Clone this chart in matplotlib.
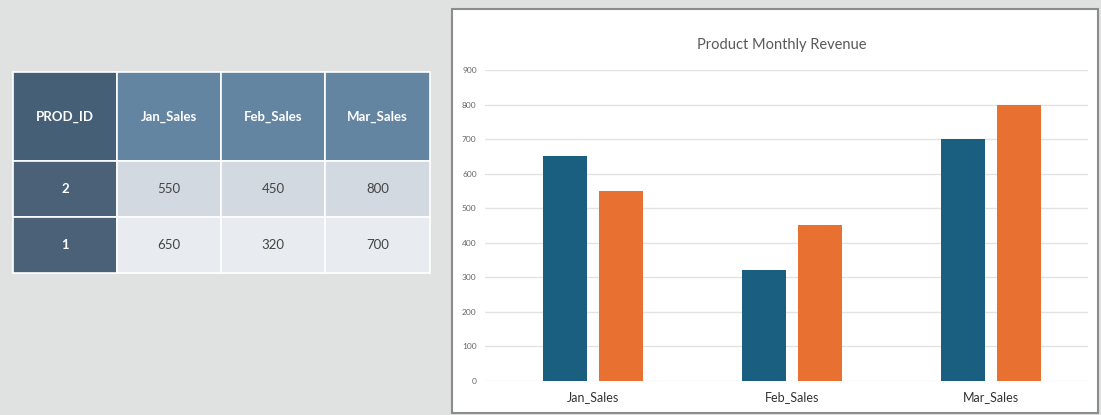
import numpy as np
import matplotlib.pyplot as plt
from matplotlib.patches import Rectangle

# data from the table / chart
months = ["Jan_Sales", "Feb_Sales", "Mar_Sales"]
prod_ids = ["2", "1"]
sales_prod2 = [550, 450, 800]
sales_prod1 = [650, 320, 700]
yticks = [0, 100, 200, 300, 400, 500, 600, 700, 800, 900]

plt.rcParams['font.family'] = ['Lato', 'DejaVu Sans']

fig = plt.figure(figsize=(11.01, 4.15), dpi=100)
fig.patch.set_facecolor("#e0e2e1")

W, H = 1101, 415

def fx(px):
    return px / W

def fy(py):
    return 1 - py / H

# full-figure axes in pixel coords for the table and the white panel
tab = fig.add_axes([0, 0, 1, 1], facecolor="none", zorder=0)
tab.set_xlim(0, W)
tab.set_ylim(H, 0)
tab.axis("off")

# white panel behind the chart
tab.add_patch(Rectangle((452, 9), 1098 - 452, 413 - 9, facecolor="white",
                        edgecolor="#8c8c8c", linewidth=1.5))

col_x = [13, 117, 221, 325, 430]
row_y = [72, 161, 217, 273]
header = ["PROD_ID"] + months
rows = [[prod_ids[0]] + sales_prod2, [prod_ids[1]] + sales_prod1]
row_colors = ["#d3d9e0", "#e8ebef"]

for j, h in enumerate(header):
    x0, x1 = col_x[j], col_x[j + 1]
    c = "#455f77" if j == 0 else "#6385a2"
    tab.add_patch(Rectangle((x0, row_y[0]), x1 - x0, row_y[1] - row_y[0],
                            facecolor=c, edgecolor="white", linewidth=1.2))
    tab.text((x0 + x1) / 2, (row_y[0] + row_y[1]) / 2, h, color="white",
             fontsize=9.5, fontweight="bold", ha="center", va="center")

for i, r in enumerate(rows):
    y0, y1 = row_y[i + 1], row_y[i + 2]
    for j, v in enumerate(r):
        x0, x1 = col_x[j], col_x[j + 1]
        if j == 0:
            tab.add_patch(Rectangle((x0, y0), x1 - x0, y1 - y0, facecolor="#4a6178",
                                    edgecolor="white", linewidth=1.2))
            tab.text((x0 + x1) / 2, (y0 + y1) / 2, str(v), color="white",
                     fontsize=9.5, fontweight="bold", ha="center", va="center")
        else:
            tab.add_patch(Rectangle((x0, y0), x1 - x0, y1 - y0, facecolor=row_colors[i],
                                    edgecolor="white", linewidth=1.2))
            tab.text((x0 + x1) / 2, (y0 + y1) / 2, str(v), color="#444444",
                     fontsize=9.5, ha="center", va="center")

# ---- bar chart on the right ----
ax = fig.add_axes([fx(485), fy(381), fx(1088) - fx(485), fy(70) - fy(381)], zorder=1)
x = np.arange(len(months))
w = 0.221
ax.bar(x - 0.141, sales_prod1, width=w, color="#1a5e80", zorder=3)
ax.bar(x + 0.141, sales_prod2, width=w, color="#e87132", zorder=3)

ax.set_xlim(-0.543, 2.487)
ax.set_ylim(0, 900)
ax.set_yticks(yticks)
ax.set_yticklabels([str(t) for t in yticks], fontsize=6, color="#666666")
ax.set_xticks(x)
ax.set_xticklabels(months, fontsize=9, color="#333333")
ax.tick_params(length=0)
ax.tick_params(axis="y", pad=6)
ax.tick_params(axis="x", pad=7)
ax.grid(axis="y", color="#e3e3e3", linewidth=1, zorder=0)
for s in ax.spines.values():
    s.set_visible(False)
ax.set_facecolor("none")

fig.text(fx(782), fy(45), "Product Monthly Revenue", fontsize=10.5, color="#595959",
         ha="center", va="center", zorder=2)

fig.savefig("out.png", dpi=100, facecolor=fig.get_facecolor())
